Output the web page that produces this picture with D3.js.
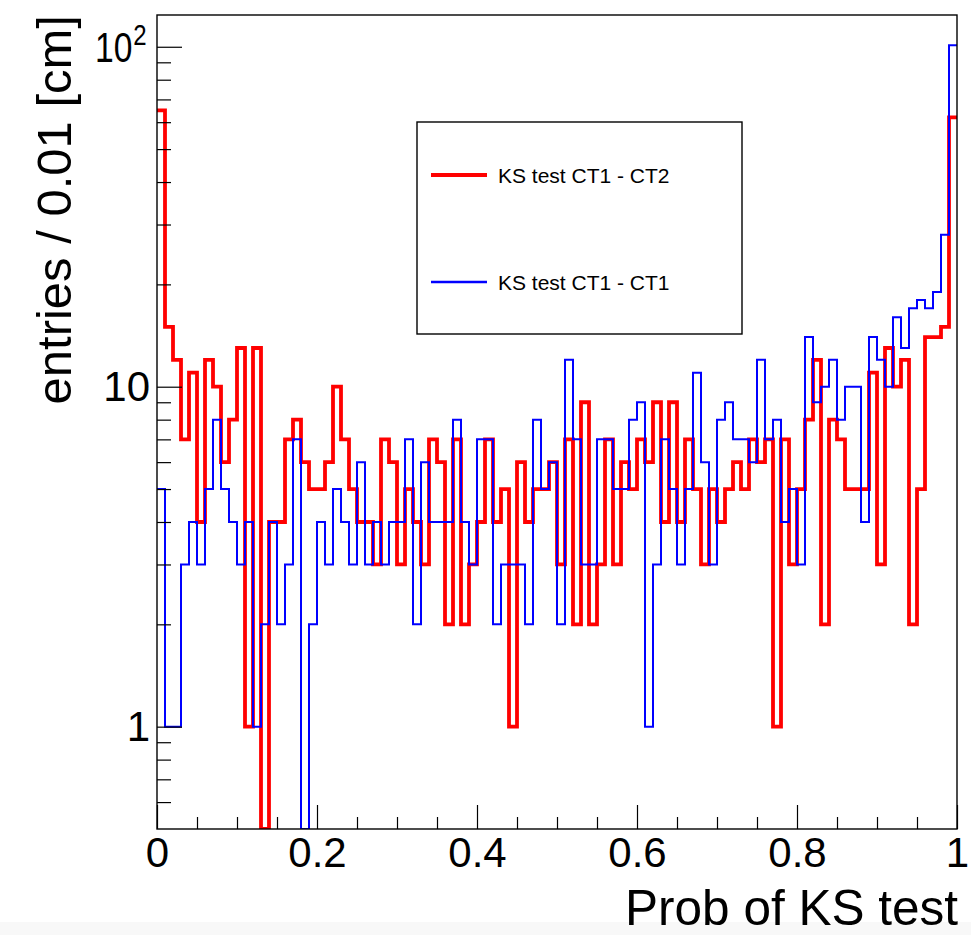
<!DOCTYPE html>
<html>
<head>
<meta charset="utf-8">
<script src="https://cdn.jsdelivr.net/npm/d3@7"></script>
<style>
  html, body { margin: 0; padding: 0; background: #fff; }
  svg { display: block; }
  text { font-family: "Liberation Sans", Arial, Helvetica, sans-serif; fill: #000; }
</style>
</head>
<body>
<div class="ks-plot"></div>
<script>
// entries per bin (100 bins of width 0.01 on [0,1])
const ct1ct2 = [65, 15, 12, 7, 11, 4, 12, 10, 6, 8,
  13, 1, 13, 0, 4, 4, 7, 8, 6, 5,
  5, 6, 10, 7, 5, 4, 4, 3, 7, 6,
  3, 5, 4, 3, 7, 6, 2, 7, 2, 3,
  4, 7, 4, 5, 1, 6, 4, 5, 5, 6,
  3, 7, 2, 9, 2, 3, 7, 3, 6, 5,
  7, 6, 9, 4, 9, 4, 7, 5, 3, 5,
  4, 5, 6, 5, 7, 6, 7, 1, 7, 3,
  5, 8, 12, 2, 8, 7, 5, 5, 5, 11,
  3, 13, 10, 12, 2, 5, 14, 14, 15, 62];

const ct1ct1 = [5, 1, 1, 3, 4, 3, 5, 8, 5, 4,
  3, 4, 1, 2, 4, 2, 3, 7, 0, 2,
  4, 3, 5, 4, 3, 6, 3, 4, 3, 4,
  4, 7, 2, 6, 4, 4, 4, 8, 4, 3,
  7, 7, 2, 3, 3, 3, 2, 8, 5, 6,
  2, 12, 7, 3, 3, 7, 7, 5, 5, 8,
  9, 1, 3, 7, 5, 3, 5, 11, 6, 3,
  8, 9, 7, 7, 6, 12, 7, 8, 4, 5,
  3, 14, 9, 10, 12, 8, 10, 10, 4, 14,
  12, 10, 16, 13, 17, 18, 17, 19, 28, 101];

const seriesNames = ["KS test CT1 - CT2", "KS test CT1 - CT1"];
const xMajorTicks = [0, 0.2, 0.4, 0.6, 0.8, 1];
const xMinorTicks = [0.05, 0.1, 0.15, 0.25, 0.3, 0.35, 0.45, 0.5, 0.55, 0.65, 0.7, 0.75, 0.85, 0.9, 0.95];
const yMajorTicks = [1, 10, 100];
const yMinorTicks = [0.6, 0.7, 0.8, 0.9, 2, 3, 4, 5, 6, 7, 8, 9, 20, 30, 40, 50, 60, 70, 80, 90];
const xTitle = "Prob of KS test";
const yTitle = "entries / 0.01 [cm]";
const binWidth = 0.01;

const width = 971, height = 935;
const frame = {left: 157, right: 957, top: 15, bottom: 829};
const yMin = 0.5, yMax = 124;

const svg = d3.select('.ks-plot').append('svg')
  .attr('width', width).attr('height', height);

// light grey strip at the very bottom of the screenshot
svg.append('rect')
  .attr('x', 0).attr('y', 922).attr('width', width).attr('height', height - 922)
  .attr('fill', '#f8f8f8');

const xScale = d3.scaleLinear().domain([0, 1]).range([frame.left, frame.right]);
const yScale = d3.scaleLog().domain([yMin, yMax]).range([frame.bottom, frame.top]);

svg.append('clipPath').attr('id', 'frame-clip')
  .append('rect')
  .attr('x', frame.left).attr('y', frame.top)
  .attr('width', frame.right - frame.left).attr('height', frame.bottom - frame.top);

// histograms as step outlines
const line = d3.line()
  .curve(d3.curveStepAfter)
  .x(d => xScale(d[0]))
  .y(d => yScale(Math.max(d[1], yMin)));

function steps(values) {
  const pts = values.map((v, i) => [i * binWidth, v]);
  pts.push([values.length * binWidth, values[values.length - 1]]);
  return pts;
}

const hists = [
  {values: ct1ct2, color: '#ff0000', w: 3.8},
  {values: ct1ct1, color: '#0000ff', w: 2}
];

svg.append('g').attr('clip-path', 'url(#frame-clip)')
  .selectAll('path').data(hists)
  .join('path')
  .attr('d', d => line(steps(d.values)))
  .attr('fill', 'none')
  .attr('stroke', d => d.color)
  .attr('stroke-width', d => d.w)
  .attr('stroke-linejoin', 'miter');

// axes (ticks pointing inward, ROOT style)
const gx = svg.append('g').attr('transform', `translate(0,${frame.bottom})`);
gx.append('g')
  .call(d3.axisBottom(xScale).tickValues(xMinorTicks).tickSize(-12).tickFormat(''));
gx.append('g')
  .call(d3.axisBottom(xScale).tickValues(xMajorTicks).tickSize(-24).tickPadding(8)
    .tickFormat(d => d === 0 || d === 1 ? String(d) : d3.format('.1f')(d)));

const gy = svg.append('g').attr('transform', `translate(${frame.left},0)`);
gy.append('g')
  .call(d3.axisLeft(yScale).tickValues(yMinorTicks).tickSize(-14).tickFormat(''));
gy.append('g')
  .call(d3.axisLeft(yScale).tickValues(yMajorTicks).tickSize(-25).tickPadding(7)
    .tickFormat(d => d === 100 ? '' : String(d)));

svg.selectAll('.domain').remove();
svg.selectAll('.tick line').attr('stroke', '#000').attr('stroke-width', 1.2);
svg.selectAll('.tick text')
  .attr('font-size', 42)
  .attr('font-family', '"Liberation Sans", Arial, sans-serif')
  .attr('fill', '#000');

// 10^2 label: narrow "10" with superscript, as drawn by ROOT
const sup = gy.selectAll('.tick').filter(d => d === 100)
  .append('text')
  .attr('transform', 'translate(-62,15) scale(0.8,1)')
  .attr('text-anchor', 'start')
  .attr('font-size', 42)
  .attr('fill', '#000')
  .text('10');
sup.append('tspan')
  .attr('dx', 1).attr('dy', -17)
  .attr('font-size', 30)
  .text('2');

// frame
svg.append('rect')
  .attr('x', frame.left).attr('y', frame.top)
  .attr('width', frame.right - frame.left).attr('height', frame.bottom - frame.top)
  .attr('fill', 'none').attr('stroke', '#000').attr('stroke-width', 1.4);

// titles
svg.append('text')
  .attr('x', 958).attr('y', 925)
  .attr('text-anchor', 'end')
  .attr('font-size', 49.5)
  .text(xTitle);

svg.append('text')
  .attr('transform', `translate(71,15) rotate(-90)`)
  .attr('text-anchor', 'end')
  .attr('font-size', 49)
  .text(yTitle);

// legend
const legend = svg.append('g');
legend.append('rect')
  .attr('x', 417).attr('y', 122).attr('width', 325).attr('height', 212)
  .attr('fill', '#fff').attr('stroke', '#000').attr('stroke-width', 1.4);

const legendRows = [175, 282];
legend.selectAll('line').data(hists)
  .join('line')
  .attr('x1', 431).attr('x2', 487)
  .attr('y1', (d, i) => legendRows[i]).attr('y2', (d, i) => legendRows[i])
  .attr('stroke', d => d.color)
  .attr('stroke-width', d => d.w + 0.4);

legend.selectAll('text').data(seriesNames)
  .join('text')
  .attr('x', 498)
  .attr('y', (d, i) => legendRows[i] + 8)
  .attr('font-size', 21)
  .text(d => d);
</script>
</body>
</html>
